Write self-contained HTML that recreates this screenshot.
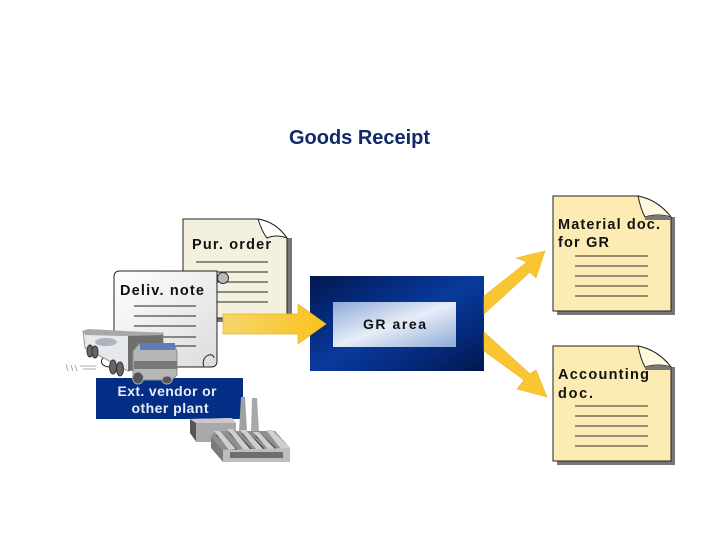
<!DOCTYPE html>
<html>
<head>
<meta charset="utf-8">
<style>
html,body{margin:0;padding:0;background:#fff;width:720px;height:540px;overflow:hidden}
svg{display:block}
text{font-family:"Liberation Sans",sans-serif;font-weight:bold}
</style>
</head>
<body>
<svg width="720" height="540" viewBox="0 0 720 540" xmlns="http://www.w3.org/2000/svg">
<defs>
<linearGradient id="blue" x1="0" y1="0" x2="1" y2="1">
<stop offset="0" stop-color="#03174c"/><stop offset=".25" stop-color="#05297a"/><stop offset=".5" stop-color="#093a9c"/><stop offset=".75" stop-color="#05297a"/><stop offset="1" stop-color="#03174c"/>
</linearGradient>
<linearGradient id="inner" x1="0" y1="0" x2="1" y2="1">
<stop offset="0" stop-color="#8fa9d6"/><stop offset=".5" stop-color="#e6edf7"/><stop offset="1" stop-color="#8fabd8"/>
</linearGradient>
<linearGradient id="arrow" x1="0" y1="0" x2="1" y2="0">
<stop offset="0" stop-color="#f6d56a"/><stop offset="1" stop-color="#fbc21e"/>
</linearGradient>
<linearGradient id="note" x1="0" y1="0" x2="1" y2="1">
<stop offset="0" stop-color="#fff"/><stop offset="1" stop-color="#dcdcdc"/>
</linearGradient>
</defs>

<text x="289" y="144" font-size="20" fill="#10296b" textLength="141" lengthAdjust="spacing">Goods Receipt</text>

<!-- Pur. order -->
<path d="M188 224H258L286 238H292V322H188Z" fill="#777"/>
<path d="M183 219H258Q276 222 287 238V318H183Z" fill="#f3f1dd" stroke="#222" stroke-width="1"/>
<path d="M258 219Q262 232 267 238Q276 234 287 238Q276 222 258 219Z" fill="#fff" stroke="#222" stroke-width="1"/>
<text x="192" y="249" font-size="14.500" fill="#111" textLength="79" lengthAdjust="spacing">Pur. order</text>
<g stroke="#222" stroke-width="1">
<path d="M196 262H268M196 272H268M196 282H268M196 292H268M196 302H268"/>
</g>

<!-- Deliv. note -->
<path d="M120 271H217V361Q217 367 211 367H120Q114 367 114 361V277Q114 271 120 271Z" fill="url(#note)" stroke="#222" stroke-width="1"/>
<circle cx="223" cy="278" r="5.500" fill="#bbb" stroke="#333"/>
<path d="M108 356C98 358 100 367 110 367H118" fill="none" stroke="#222"/>
<path d="M204 367C200 356 213 351 214 358" fill="none" stroke="#222"/>
<text x="120" y="295" font-size="14.500" fill="#111" textLength="84" lengthAdjust="spacing">Deliv. note</text>
<g stroke="#222" stroke-width="1">
<path d="M134 306H196M134 316H196M134 326H196M134 337H196M134 346H196"/>
</g>

<!-- Vendor label -->
<rect x="96" y="378" width="147" height="41" fill="#042e86"/>
<g fill="#e8ecf5" font-size="14" text-anchor="middle">
<text x="167" y="396" textLength="99" lengthAdjust="spacing">Ext. vendor or</text>
<text x="170" y="413" textLength="77" lengthAdjust="spacing">other plant</text>
</g>

<!-- Truck -->
<path d="M83 331L163 333V366L128 371L85 348Z" fill="#e6e8ec" stroke="#9a9a9a"/>
<path d="M83 331L88 329L163 333V337L85 335Z" fill="#a8a8a8"/>
<path d="M128 336L163 335V366L128 371Z" fill="#6f6f6f"/>
<ellipse cx="106" cy="342" rx="11" ry="4" fill="#aeb4bd"/>
<g fill="#666" stroke="#333">
<ellipse cx="90" cy="351" rx="3" ry="6"/><ellipse cx="95" cy="352" rx="3" ry="6"/>
<ellipse cx="113" cy="367" rx="3.500" ry="7"/><ellipse cx="120" cy="369" rx="3.500" ry="7"/>
</g>
<path d="M133 351L139 344H174L177 352V375L172 380H136L133 375Z" fill="#b6b8b6" stroke="#8b8b8b"/>
<path d="M140 343H175V350H140Z" fill="#5f7cb5"/>
<path d="M134 361H177V369H134Z" fill="#777977"/>
<ellipse cx="138" cy="378" rx="5.500" ry="6" fill="#555" stroke="#aab"/>
<ellipse cx="167" cy="380" rx="5" ry="4" fill="#555" stroke="#aab"/>
<g stroke="#aaa" stroke-width="1">
<path d="M66 364L68 371M71 365L73 371M75 365L77 371"/>
<path d="M80 366H96M83 369H96"/>
</g>

<!-- Factory -->
<path d="M241 397H245L247 432H239Z" fill="#a0a0a0"/>
<path d="M252 398H257L259 432H251Z" fill="#a8a8a8"/>
<path d="M190 419L232 418L236 423V442H196L190 433Z" fill="#a9a9a9"/>
<path d="M190 419L196 423V441L190 433Z" fill="#555"/>
<path d="M190 419L232 418L236 423H196Z" fill="#c9c9c9"/>
<path d="M211 437L215 431L275 431L290 448L223 450Z" fill="#8f8f8f"/>
<g fill="#444">
<path d="M220 431L238 450H230L216 435Z"/><path d="M233 429L252 449H244L229 433Z"/><path d="M246 430L265 449H257L242 434Z"/><path d="M259 432L277 449H269L255 436Z"/>
</g>
<g fill="#cfcfcf">
<path d="M214 431L220 431L236 449L229 450Z"/><path d="M227 429L233 429L250 449L243 449Z"/><path d="M240 430L246 430L263 449L256 449Z"/><path d="M253 432L259 432L275 449L268 449Z"/><path d="M266 430L272 430L290 448L281 449Z"/>
</g>
<path d="M223 450L290 448V462H223Z" fill="#bdbdbd"/>
<path d="M211 437L223 450V462L211 448Z" fill="#7a7a7a"/>
<rect x="230" y="452" width="53" height="6" fill="#6e6e6e"/>

<!-- GR area -->
<rect x="310" y="276" width="174" height="95" fill="url(#blue)"/>
<rect x="333" y="302" width="123" height="45" fill="url(#inner)"/>
<text x="394.500" y="329" font-size="14" fill="#111" text-anchor="middle" textLength="63" lengthAdjust="spacing">GR area</text>

<!-- Left arrow -->
<path d="M223 314H298V304L326 324L298 344V334H223Z" fill="url(#arrow)" stroke="#e3b02c" stroke-width=".7"/>

<!-- Output arrows -->
<path d="M484 296L527 262L516 258L545 251L536 278L530 272L484 314Z" fill="#f9c631" stroke="#e9b52a" stroke-width=".6"/>
<path d="M484 332L530 374L536 370L547 397L517 389L524 380L484 351Z" fill="#f9c631" stroke="#e9b52a" stroke-width=".6"/>

<!-- Material doc -->
<path d="M557 200H640L670 217H675V315H557Z" fill="#777"/>
<path d="M553 196H638Q658 200 671 217V311H553Z" fill="#fcebb3" stroke="#222"/>
<path d="M638 196Q641 210 645 217Q658 213 671 217Q658 200 638 196Z" fill="#fff8e0" stroke="#222"/>
<path d="M645 217Q658 213 671 217V220H645Z" fill="#777"/>
<text x="558" y="229" font-size="14.500" fill="#111" textLength="102" lengthAdjust="spacing">Material doc.</text>
<text x="558" y="247" font-size="14.500" fill="#111" textLength="51" lengthAdjust="spacing">for GR</text>
<path d="M575 256H648M575 266H648M575 276H648M575 286H648M575 296H648" stroke="#333"/>

<!-- Accounting doc -->
<path d="M557 350H640L670 367H675V465H557Z" fill="#777"/>
<path d="M553 346H638Q658 350 671 367V461H553Z" fill="#fcebb3" stroke="#222"/>
<path d="M638 346Q641 360 645 367Q658 363 671 367Q658 350 638 346Z" fill="#fff8e0" stroke="#222"/>
<path d="M645 367Q658 363 671 367V370H645Z" fill="#777"/>
<text x="558" y="379" font-size="14.500" fill="#111" textLength="91" lengthAdjust="spacing">Accounting</text>
<text x="558" y="398" font-size="14.500" fill="#111" textLength="35" lengthAdjust="spacing">doc.</text>
<path d="M575 406H648M575 416H648M575 426H648M575 436H648M575 446H648" stroke="#333"/>
</svg>
</body>
</html>
